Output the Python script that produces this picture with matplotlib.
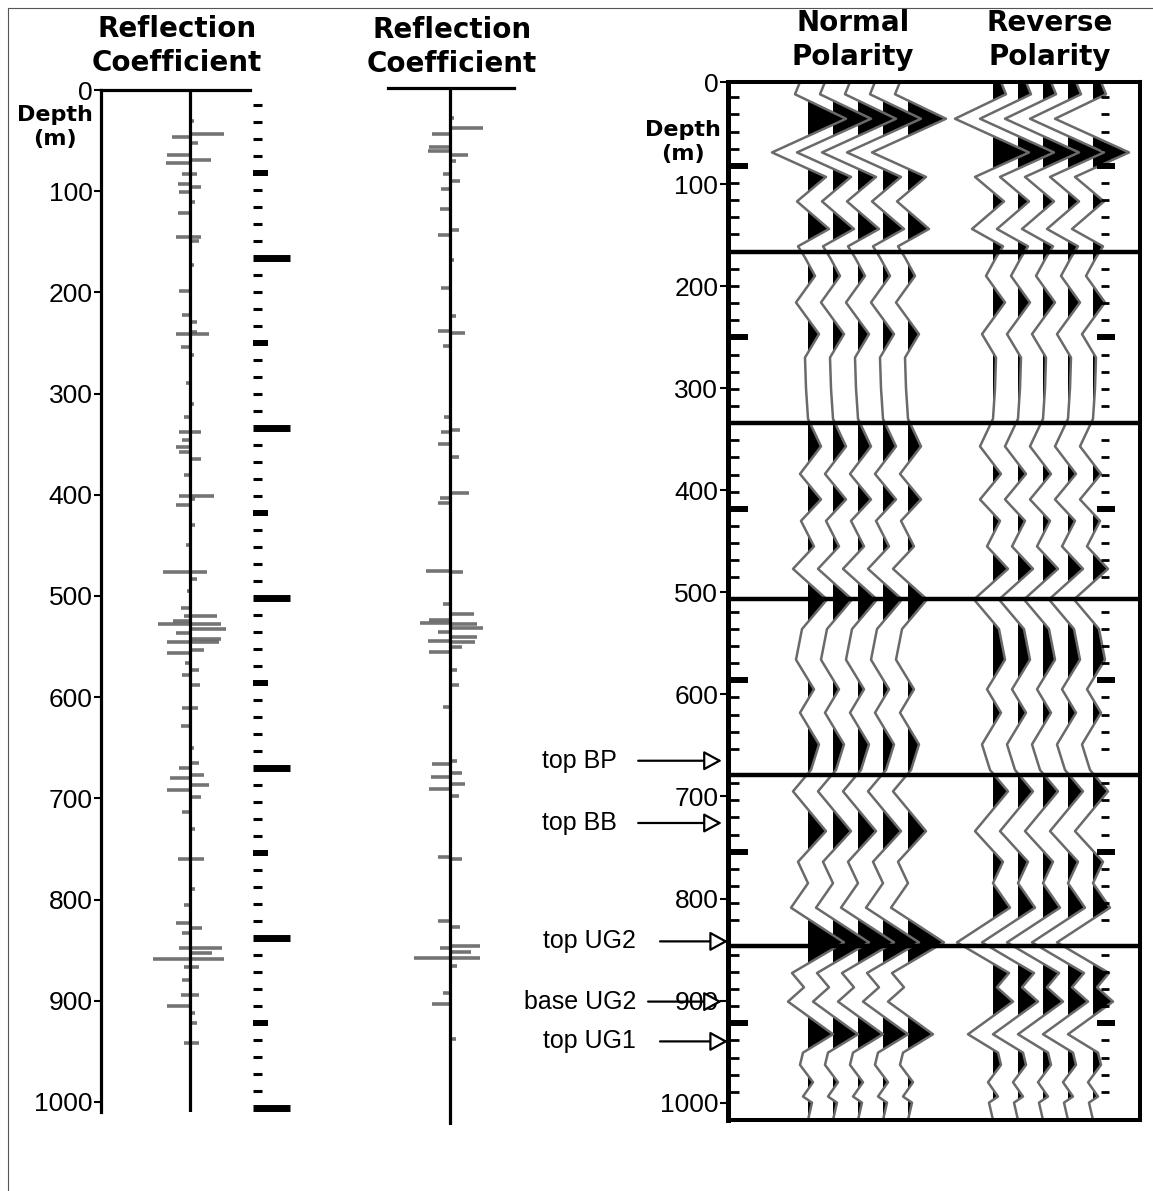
import matplotlib
matplotlib.use('Agg')
import matplotlib.pyplot as plt
import numpy as np
from matplotlib.lines import Line2D

# ---------------- data ----------------
depth_ticks = [0, 100, 200, 300, 400, 500, 600, 700, 800, 900, 1000]

# reflection coefficient log (left), depth in m and coefficient
rc1_depth = [31, 43, 46, 52, 64, 69, 72, 83, 83, 93, 96, 101, 111, 122, 145, 145, 149,
             173, 199, 222, 229, 239, 241, 241, 254, 262, 290, 310, 323, 338, 338, 346,
             353, 358, 365, 380, 401, 401, 404, 410, 430, 450, 476, 476, 483, 495, 512,
             520, 520, 525, 528, 528, 533, 537, 543, 546, 546, 553, 556, 566, 573, 578,
             588, 611, 611, 629, 650, 665, 670, 677, 680, 687, 692, 699, 714, 730, 760,
             760, 790, 805, 823, 828, 833, 848, 848, 853, 859, 859, 867, 867, 880, 894,
             894, 905, 912, 922, 942, 942]
rc1_value = [0.013, 0.113, -0.063, 0.027, -0.08, 0.07, -0.083, -0.027, 0.023, -0.043,
             0.037, -0.037, 0.017, -0.043, -0.047, 0.037, 0.03, 0.013, -0.037, -0.027,
             0.023, 0.023, -0.047, 0.063, -0.03, 0.013, -0.015, 0.012, -0.02, -0.037,
             0.037, -0.027, -0.047, -0.037, 0.037, -0.023, 0.08, -0.037, 0.017, -0.047,
             0.015, -0.015, -0.093, 0.057, 0.023, -0.012, -0.03, 0.09, -0.02, -0.06,
             -0.11, 0.103, 0.12, -0.047, 0.103, -0.08, 0.097, 0.047, -0.08, -0.017,
             0.03, -0.027, 0.033, 0.027, -0.027, -0.03, 0.012, 0.03, -0.037, 0.047,
             -0.07, 0.063, -0.077, 0.037, -0.027, 0.017, -0.043, 0.047, 0.015, -0.02,
             -0.047, 0.04, -0.027, 0.107, -0.037, 0.073, -0.127, 0.113, 0.03, -0.023,
             -0.027, -0.03, 0.03, -0.077, 0.017, 0.023, 0.03, -0.023]

# reflection coefficient log (middle)
rc2_depth = [30, 40, 45, 58, 62, 66, 72, 85, 92, 100, 120, 140, 145, 170, 198, 225, 240,
             242, 255, 325, 338, 340, 352, 365, 400, 405, 410, 477, 478, 510, 520, 526,
             529, 530, 534, 538, 543, 547, 548, 553, 557, 575, 590, 612, 665, 668, 677,
             681, 688, 693, 700, 760, 762, 823, 829, 848, 850, 854, 860, 860, 868, 895,
             905, 940]
rc2_value = [0.013, 0.11, -0.06, -0.07, -0.075, 0.06, 0.02, -0.025, 0.035, -0.03, -0.035,
             0.03, -0.04, 0.012, -0.03, 0.02, -0.04, 0.05, -0.025, -0.02, 0.035, -0.03,
             -0.04, 0.03, 0.065, -0.035, -0.04, -0.08, 0.045, -0.025, 0.08, -0.07, -0.1,
             0.09, 0.11, -0.04, 0.09, -0.075, 0.085, 0.04, -0.07, 0.025, 0.03, -0.025,
             0.025, -0.06, 0.04, -0.065, 0.05, -0.07, 0.03, -0.04, 0.04, -0.04, 0.035,
             0.1, -0.035, 0.07, -0.12, 0.1, 0.025, -0.025, -0.06, 0.02]

# synthetic seismogram, normal polarity (amplitude in trace spacings)
syn_depth = [0, 12, 36, 69, 93, 117, 144, 161, 172, 190, 216, 247, 270, 300, 330, 357,
             384, 409, 430, 455, 477, 507, 536, 566, 595, 618, 649, 674, 695, 734, 764,
             785, 809, 843, 873, 887, 901, 933, 951, 963, 980, 994, 1000, 1017]
syn_amp = [-0.32, -0.52, 1.52, -1.44, 0.72, -0.44, 0.84, -0.4, -0.12, 0.28, -0.48, 0.44,
           -0.12, -0.08, 0.0, 0.52, -0.32, 0.52, -0.28, 0.24, -0.6, 0.76, -0.24, -0.48,
           0.24, -0.32, 0.44, 0.12, -0.6, 0.72, -0.4, 0.0, -0.68, 1.44, -0.64, -0.16,
           -0.8, 1.0, -0.2, -0.32, 0.2, -0.2, 0.16, 0.0]

panel_breaks = [167, 334, 507, 679, 847]
horizon_names = ['top BP', 'top BB', 'top UG2', 'base UG2', 'top UG1']
horizon_depths = [665, 726, 842, 901, 940]

sample_step = 16.8   # time-sample marks along the logs
n_traces = 5

# ---------------- layout (pixels of the 1153x1191 picture) ----------------
W, H = 1153, 1191
plt.rcParams['font.family'] = 'Liberation Sans'


def box(x0, y0, x1, y1):
    return [x0 / W, 1 - y1 / H, (x1 - x0) / W, (y1 - y0) / H]


def sample_marks(ax, x_small, x_bold, x_long, last):
    tr = ax.get_yaxis_transform()
    for i in range(last):
        d = 15 + i * sample_step
        if i % 10 == 9:
            x0, x1, lw = x_bold[0], x_long, 5
        elif i % 5 == 4:
            x0, x1, lw = x_bold[0], x_bold[1], 4.3
        else:
            x0, x1, lw = x_small[0], x_small[1], 2.2
        ax.plot([x0, x1], [d, d], color='black', lw=lw, solid_capstyle='butt',
                transform=tr, clip_on=False)


def rc_log(ax, depth, value, bottom):
    ax.hlines(depth, 0, value, color='#5c5c5c', lw=2.6, alpha=0.85)
    ax.plot([0, 0], [0, bottom], color='black', lw=2.3)
    ax.set_ylim(bottom, 0)
    for s in ['right', 'bottom']:
        ax.spines[s].set_visible(False)
    ax.spines['top'].set_linewidth(2.3)
    ax.set_xticks([])


fig = plt.figure(figsize=(W / 100, H / 100), dpi=100)

# left reflection coefficient log with depth axis
ax1 = fig.add_axes(box(101, 90, 250, 1112))
rc_log(ax1, rc1_depth, rc1_value, 1010)
ax1.set_xlim(-0.30, 0.20)
ax1.spines['left'].set_linewidth(2.3)
ax1.set_yticks(depth_ticks)
ax1.tick_params(axis='y', direction='out', length=5, width=1.5, labelsize=19, pad=1)
sample_marks(ax1, (1.02, 1.08), (1.02, 1.12), 1.27, 60)

# middle reflection coefficient log
ax2 = fig.add_axes(box(388, 88, 514, 1125))
rc_log(ax2, rc2_depth, rc2_value, 1025)
ax2.set_xlim(-0.208, 0.215)
ax2.spines['left'].set_visible(False)
ax2.set_yticks([])

# synthetic seismograms
ax3 = fig.add_axes(box(728, 82, 1140, 1120))
ax3.set_xlim(-3.2, 13.28)
ax3.set_ylim(1017, 0)
amp = np.array(syn_amp)
for base, sign in [(0.0, 1), (7.4, -1)]:
    for k in range(n_traces):
        x0 = base + k
        a = sign * amp
        ax3.fill_betweenx(syn_depth, x0, x0 + a, where=a > 0, interpolate=True,
                          color='black', lw=0)
        ax3.plot(x0 + a, syn_depth, color='#6a6a6a', lw=1.8, solid_joinstyle='round')
for d in panel_breaks:
    ax3.axhline(d, color='black', lw=3.2)
for s in ax3.spines.values():
    s.set_linewidth(2.9)
ax3.spines['left'].set_linewidth(3.6)
ax3.set_xticks([])
ax3.set_yticks(depth_ticks)
ax3.tick_params(axis='y', direction='out', length=6, width=1.5, labelsize=19, pad=1)

# inner sample marks on the left axis and dotted column on the right
tr3 = ax3.get_yaxis_transform()
for i in range(61):
    d = 15 + i * sample_step
    if i % 10 == 9:
        continue
    bold = i % 5 == 4
    ax3.plot([0.0, 0.049 if bold else 0.027], [d, d], color='black',
             lw=4.3 if bold else 2.0, solid_capstyle='butt', transform=tr3)
    ax3.plot([0.896 if bold else 0.905, 0.939 if bold else 0.925], [d, d],
             color='black', lw=4.3 if bold else 2.0, solid_capstyle='butt', transform=tr3)

# horizon arrows
arrow_tail = [-0.218, -0.218, -0.165, -0.194, -0.165]
arrow_tip = [-0.015, -0.015, 0.0, -0.015, 0.0]
label_right = [-0.269, -0.269, -0.223, -0.223, -0.223]
for name, d, xt, xh, xl in zip(horizon_names, horizon_depths, arrow_tail, arrow_tip, label_right):
    ax3.annotate('', xy=(xh, d), xytext=(xt, d), xycoords=tr3, textcoords=tr3,
                 annotation_clip=False,
                 arrowprops=dict(arrowstyle='-|>,head_length=0.55,head_width=0.3',
                                 fc='white', ec='black', lw=1.6, mutation_scale=20,
                                 shrinkA=0, shrinkB=0))
    ax3.text(xl, d, name, transform=tr3, ha='right', va='center', fontsize=18)

# titles
bold = dict(family='DejaVu Sans', fontweight='bold', fontsize=20, ha='center',
            va='center', linespacing=1.3)
fig.text(177 / W, 1 - 46 / H, 'Reflection\nCoefficient', **bold)
fig.text(452 / W, 1 - 47 / H, 'Reflection\nCoefficient', **bold)
fig.text(853 / W, 1 - 40 / H, 'Normal\nPolarity', **bold)
fig.text(1050 / W, 1 - 40 / H, 'Reverse\nPolarity', **bold)
depth_lbl = dict(family='DejaVu Sans', fontweight='bold', fontsize=16, ha='center',
                 va='center', linespacing=1.3)
fig.text(55 / W, 1 - 127 / H, 'Depth\n(m)', **depth_lbl)
fig.text(683 / W, 1 - 142 / H, 'Depth\n(m)', **depth_lbl)

# frame lines of the scanned page
fig.add_artist(Line2D([8 / W, 8 / W], [0, 1 - 8 / H], color='#555555', lw=0.8))
fig.add_artist(Line2D([8 / W, 1], [1 - 8 / H, 1 - 8 / H], color='#555555', lw=0.8))

fig.savefig('out.png', dpi=100)
